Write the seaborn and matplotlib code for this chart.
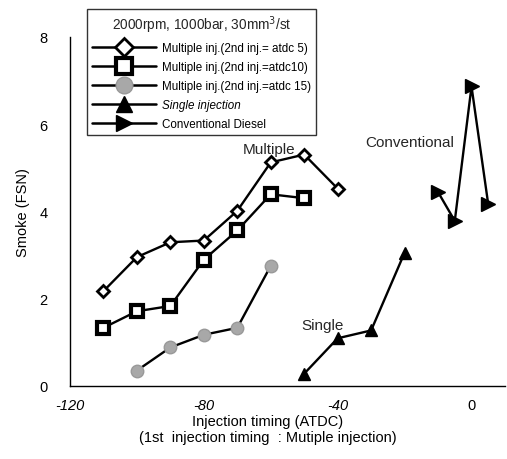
import matplotlib
matplotlib.use("Agg")
import matplotlib.pyplot as plt
import seaborn as sns
import pandas as pd
from matplotlib.lines import Line2D

sns.set_theme(style="white")
plt.rcParams['font.family'] = ['Liberation Sans', 'DejaVu Sans']

# ---- data ----
x_multi5 = [-110, -100, -90, -80, -70, -60, -50, -40]
y_multi5 = [2.17, 2.95, 3.29, 3.33, 4.01, 5.12, 5.30, 4.52]

x_multi10 = [-110, -100, -90, -80, -70, -60, -50]
y_multi10 = [1.33, 1.71, 1.83, 2.89, 3.56, 4.39, 4.30]

x_multi15 = [-100, -90, -80, -70, -60]
y_multi15 = [0.35, 0.88, 1.17, 1.33, 2.75]

x_single = [-50, -40, -30, -20]
y_single = [0.28, 1.09, 1.27, 3.05]

x_conv = [-10, -5, 0, 5]
y_conv = [4.44, 3.78, 6.86, 4.16]

labels = [
    "Multiple inj.(2nd inj.= atdc 5)",
    "Multiple inj.(2nd inj.=atdc10)",
    "Multiple inj.(2nd inj.=atdc 15)",
    "Single injection",
    "Conventional Diesel",
]
legend_title = "2000rpm, 1000bar, 30mm$^3$/st"
x_ticks = [-120, -80, -40, 0]
y_ticks = [0, 2, 4, 6, 8]

fig = plt.figure(figsize=(5.07, 4.6), dpi=100)
ax = fig.add_axes([0.138, 0.159, 0.858, 0.759])

styles = [
    dict(marker='D', markersize=6.5, markerfacecolor='white', markeredgecolor='black', markeredgewidth=2.0),
    dict(marker='s', markersize=8.5, markerfacecolor='white', markeredgecolor='black', markeredgewidth=3.0),
    dict(marker='o', markersize=9, markerfacecolor='#a8a8a8', markeredgecolor='#999999', markeredgewidth=1.0),
    dict(marker='^', markersize=9, markerfacecolor='black', markeredgecolor='black', markeredgewidth=1.0),
    dict(marker='>', markersize=10, markerfacecolor='black', markeredgecolor='black', markeredgewidth=1.0),
]
series = [(x_multi5, y_multi5), (x_multi10, y_multi10), (x_multi15, y_multi15),
          (x_single, y_single), (x_conv, y_conv)]

for (xs, ys), st in zip(series, styles):
    df = pd.DataFrame({"x": xs, "y": ys})
    sns.lineplot(data=df, x="x", y="y", ax=ax, sort=False, color='black',
                 linewidth=1.7, estimator=None, **st)

ax.set_xlim(-120, 10)
ax.set_ylim(0, 8)
ax.set_xticks(x_ticks)
ax.set_yticks(y_ticks)
ax.set_xticklabels([str(t) for t in x_ticks], fontsize=10.5)
for lab, t in zip(ax.get_xticklabels(), x_ticks):
    if t < 0:
        lab.set_style('italic')
ax.set_yticklabels([str(t) for t in y_ticks], fontsize=10.5)
ax.tick_params(axis='both', direction='in', length=3, width=0.8, colors='black')
ax.tick_params(axis='y', pad=16)
ax.tick_params(axis='x', pad=9)

for s in ['top', 'right']:
    ax.spines[s].set_visible(False)
for s in ['left', 'bottom']:
    ax.spines[s].set_color('black')
    ax.spines[s].set_linewidth(1.0)

ax.set_ylabel("Smoke (FSN)", fontsize=10.5, color='black')
ax.yaxis.set_label_coords(-0.092, 0.5)
ax.set_xlabel("Injection timing (ATDC)\n(1st  injection timing  : Mutiple injection)",
              fontsize=10.5, color='black', linespacing=1.2)
ax.xaxis.set_label_coords(0.455, -0.08, transform=ax.transAxes)
ax.xaxis.label.set_va('top')

ax.text(-60.5, 5.42, "Multiple", fontsize=11, ha='center', va='center')
ax.text(-18.5, 5.58, "Conventional", fontsize=11, ha='center', va='center')
ax.text(-44.4, 1.4, "Single", fontsize=11, ha='center', va='center')

handles = [Line2D([0], [0], color='black', linewidth=1.8, **st) for st in styles]
handles[0].set_markersize(9)
handles[1].set_markersize(11)
handles[2].set_markersize(12)
handles[3].set_markersize(11)
handles[4].set_markersize(12)
leg = ax.legend(handles, labels, title=legend_title, loc='upper left',
                bbox_to_anchor=(0.172, 0.978), bbox_transform=fig.transFigure,
                fontsize=8.4, title_fontsize=9.8, frameon=True, fancybox=False,
                edgecolor='black', handlelength=5.5, handletextpad=0.5,
                labelspacing=0.6, borderpad=0.4, borderaxespad=0)
leg.get_frame().set_linewidth(1.0)
for t in leg.get_texts():
    t.set_color('black')
leg.get_texts()[3].set_style('italic')

fig.savefig("out.png", dpi=100)
